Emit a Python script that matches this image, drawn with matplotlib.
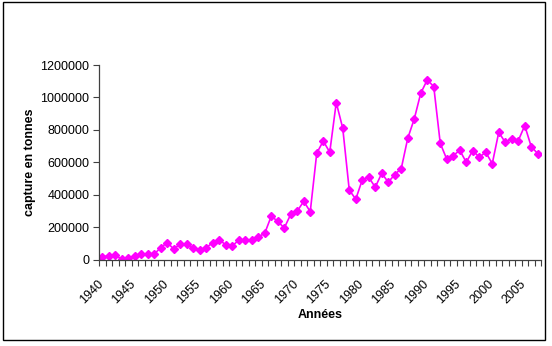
import matplotlib.pyplot as plt
from matplotlib.patches import Rectangle
from matplotlib.transforms import ScaledTranslation

plt.rcParams['font.family'] = ['Liberation Sans', 'DejaVu Sans']

annees = list(range(1940, 2008))
capture = [17000, 22000, 26000, 3000, 9000, 20000, 34000, 34000, 34000, 73000,
           104000, 65000, 96000, 96000, 71000, 59000, 73000, 104000, 122000, 90000,
           83000, 120000, 120000, 120000, 139000, 162000, 267000, 236000, 194000, 279000,
           299000, 359000, 295000, 656000, 731000, 662000, 968000, 810000, 429000, 372000,
           491000, 507000, 446000, 532000, 477000, 524000, 561000, 748000, 867000, 1026000,
           1108000, 1067000, 717000, 619000, 641000, 674000, 600000, 672000, 631000, 662000,
           591000, 785000, 723000, 746000, 733000, 826000, 696000, 653000]
yticks = [0, 200000, 400000, 600000, 800000, 1000000, 1200000]

fig = plt.figure(figsize=(5.52, 3.46), dpi=100)
ax = fig.add_axes([99 / 552, 1 - 259.5 / 346, 442 / 552, 194.5 / 346])

x = list(range(len(annees)))
ax.plot(x, capture, color='#FF00FF', linewidth=1.2, marker='D', markersize=4.5,
        markerfacecolor='#FF00FF', markeredgecolor='#FF00FF')

ax.set_xlim(-0.5, len(annees) - 0.5)
ax.set_ylim(0, 1200000)

# y axis
ax.set_yticks(yticks)
ax.set_yticklabels([str(v) for v in yticks], fontsize=9)
ax.tick_params(axis='y', direction='out', length=4, width=0.8, color='#404040', pad=3)

# x axis : petits traits entre chaque année, étiquettes tous les 5 ans
ax.set_xticks([i - 0.5 for i in range(len(annees) + 1)], minor=True)
maj = [i for i in x if annees[i] % 5 == 0]
ax.set_xticks(maj)
ax.set_xticklabels([str(annees[i]) for i in maj], fontsize=9, rotation=45,
                   ha='right', rotation_mode='anchor')
ax.tick_params(axis='x', which='major', length=0, pad=13)
ax.tick_params(axis='x', which='minor', direction='out', length=4, width=0.8, color='#404040')
decalage = ScaledTranslation(-5 / 100, 0, fig.dpi_scale_trans)
for lab in ax.get_xticklabels():
    lab.set_transform(lab.get_transform() + decalage)

for s in ['top', 'right']:
    ax.spines[s].set_visible(False)
for s in ['left', 'bottom']:
    ax.spines[s].set_color('#404040')
    ax.spines[s].set_linewidth(0.9)

ax.set_ylabel('capture en tonnes', fontsize=9, fontweight='bold')
ax.yaxis.set_label_coords(-0.142, 0.5)
ax.set_xlabel('Années', fontsize=9, fontweight='bold')
ax.xaxis.set_label_coords(0.5, -0.254)

fig.patches.append(Rectangle((3 / 552, 1 - 340 / 346), 542 / 552, 338 / 346,
                             transform=fig.transFigure, fill=False,
                             edgecolor='black', linewidth=1))

fig.savefig('out.png', dpi=100)
